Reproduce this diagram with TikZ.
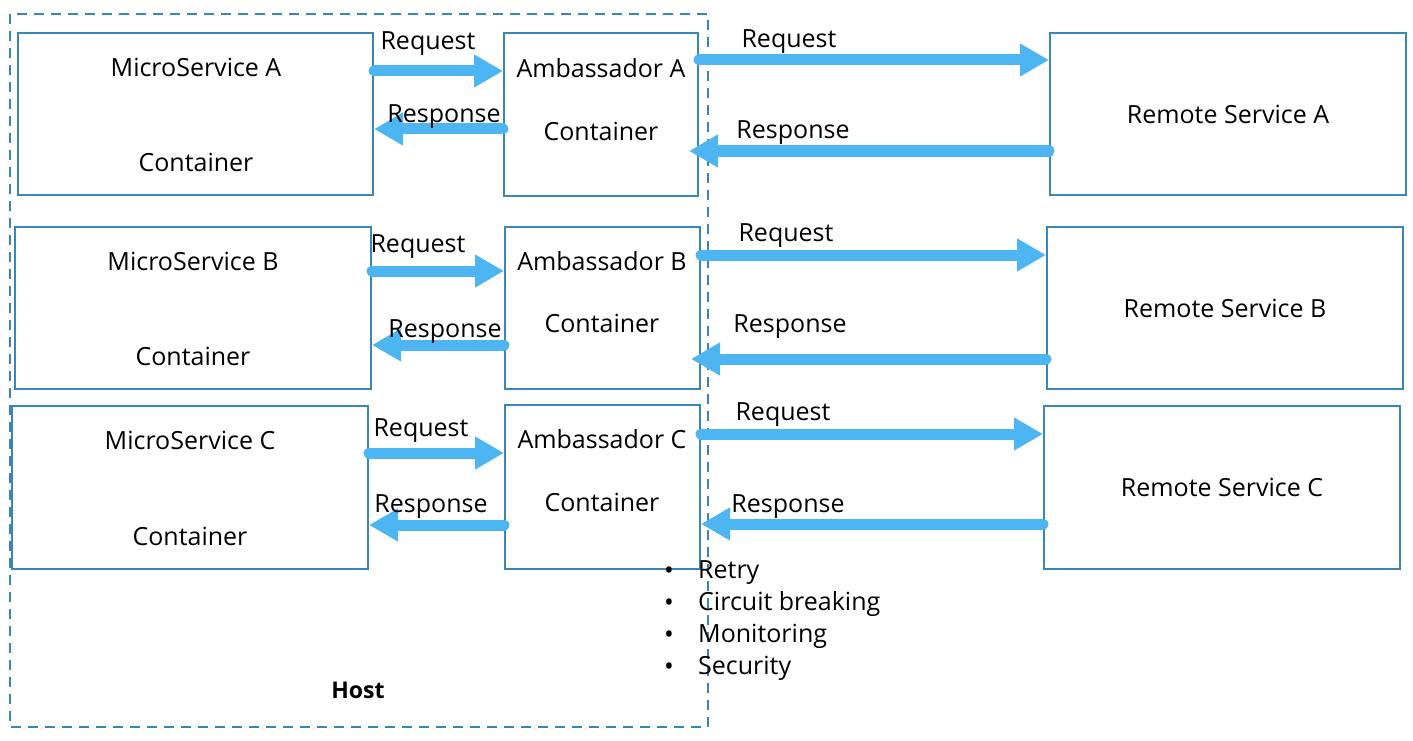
\documentclass[tikz,border=0pt]{standalone}
\usepackage{fontspec}
\setmainfont{Open Sans}
\usetikzlibrary{arrows.meta}
\definecolor{boxc}{HTML}{3A86B5}
\definecolor{arrc}{HTML}{4DB5F2}
\tikzset{
  box/.style={draw=boxc, line width=2pt, minimum width=#1, inner sep=0pt},
  txt/.style={font=\fontsize{25}{28}\selectfont, inner sep=0pt, anchor=center, text height=17.8pt, text depth=0pt},
  flow/.style={draw=arrc, line width=11pt, line cap=round, -{Triangle[length=29pt,width=31pt]}},
  hostbox/.style={draw=boxc, line width=2pt, dash pattern=on 10pt off 7pt}
}
\begin{document}
\begin{tikzpicture}[x=1pt,y=1pt]
\useasboundingbox (0,0) rectangle (1413,-741);
% host
\draw[hostbox] (10,-14) rectangle (708,-727);
\node[txt, font=\fontsize{23}{26}\selectfont\bfseries, text height=16.4pt] (host) at (358,-690) {Host};
% row A
\node[box=355pt, minimum height=162pt] (msA) at (195.5,-114) {};
\node[box=194pt, minimum height=163pt] (ambA) at (601,-114.5) {};
\node[box=356pt, minimum height=162pt] (remA) at (1228,-114) {};
\node[txt] (msAt) at (196,-68) {MicroService A};
\node[txt] (msAc) at (196,-163) {Container};
\node[txt] (ambAt) at (601,-69) {Ambassador A};
\node[txt] (ambAc) at (601,-132) {Container};
\node[txt] (remAt) at (1228,-115) {Remote Service A};
% row B
\node[box=356pt, minimum height=162pt] (msB) at (193,-308) {};
\node[box=195pt, minimum height=162pt] (ambB) at (602.5,-308) {};
\node[box=356pt, minimum height=162pt] (remB) at (1225,-308) {};
\node[txt] (msBt) at (193,-262) {MicroService B};
\node[txt] (msBc) at (193,-357) {Container};
\node[txt] (ambBt) at (602,-262) {Ambassador B};
\node[txt] (ambBc) at (602,-324) {Container};
\node[txt] (remBt) at (1225,-309) {Remote Service B};
% row C
\node[box=356pt, minimum height=163pt] (msC) at (190,-487.5) {};
\node[box=195pt, minimum height=164pt] (ambC) at (602.5,-487) {};
\node[box=356pt, minimum height=163pt] (remC) at (1222,-487.5) {};
\node[txt] (msCt) at (190,-441) {MicroService C};
\node[txt] (msCc) at (190,-537) {Container};
\node[txt] (ambCt) at (602,-440) {Ambassador C};
\node[txt] (ambCc) at (602,-503) {Container};
\node[txt] (remCt) at (1222,-488) {Remote Service C};
% arrows row A
\draw[flow] (msA.east |- 0,-71) -- (ambA.west |- 0,-71);
\draw[flow] (ambA.west |- 0,-129) -- (msA.east |- 0,-129);
\draw[flow] (ambA.east |- 0,-60) -- (remA.west |- 0,-60);
\draw[flow] (remA.west |- 0,-151) -- ([xshift=-10pt]ambA.east |- 0,-151);
\node[txt] (rqA1) at (428,-41) {Request};
\node[txt] (rsA1) at (444,-114) {Response};
\node[txt] (rqA2) at (789,-39) {Request};
\node[txt] (rsA2) at (793,-130) {Response};
% arrows row B
\draw[flow] (msB.east |- 0,-271) -- (ambB.west |- 0,-271);
\draw[flow] (ambB.west |- 0,-345) -- (msB.east |- 0,-345);
\draw[flow] (ambB.east |- 0,-255) -- (remB.west |- 0,-255);
\draw[flow] (remB.west |- 0,-359) -- ([xshift=-10pt]ambB.east |- 0,-359);
\node[txt] (rqB1) at (418,-244) {Request};
\node[txt] (rsB1) at (445,-329) {Response};
\node[txt] (rqB2) at (786,-233) {Request};
\node[txt] (rsB2) at (790,-324) {Response};
% arrows row C
\draw[flow] (msC.east |- 0,-453) -- (ambC.west |- 0,-453);
\draw[flow] (ambC.west |- 0,-525) -- (msC.east |- 0,-525);
\draw[flow] (ambC.east |- 0,-434) -- (remC.west |- 0,-434);
\draw[flow] (remC.west |- 0,-524) -- (ambC.east |- 0,-524);
\node[txt] (rqC1) at (421,-428) {Request};
\node[txt] (rsC1) at (431,-504) {Response};
\node[txt] (rqC2) at (783,-412) {Request};
\node[txt] (rsC2) at (788,-504) {Response};
% bullets
\foreach \t/\y/\n in {Retry/570/b1, Circuit breaking/602/b2, Monitoring/634/b3, Security/666/b4}{
  \node[txt, anchor=base, font=\fontsize{26}{28}\selectfont] (\n d) at (669,-\y-9) {•};
  \node[txt, anchor=west] (\n) at (698,-\y) {\t};
}
\end{tikzpicture}
\end{document}
